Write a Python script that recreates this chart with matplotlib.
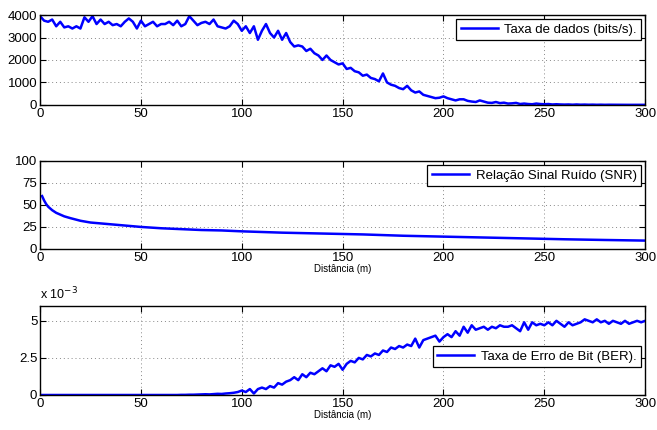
import numpy as np
import matplotlib
matplotlib.use("Agg")
import matplotlib.pyplot as plt

plt.rcParams['font.family'] = ['Liberation Sans', 'DejaVu Sans']

# ---- data ----
dist = list(range(0, 301, 2))
taxa_dados = [3950, 3750, 3700, 3800, 3500, 3700, 3450, 3500, 3400, 3500,
              3400, 3900, 3700, 3950, 3600, 3800, 3600, 3700, 3550, 3600,
              3500, 3700, 3850, 3700, 3400, 3750, 3500, 3600, 3700, 3500,
              3600, 3600, 3700, 3550, 3750, 3500, 3600, 3950, 3750, 3550,
              3650, 3700, 3600, 3800, 3500, 3450, 3400, 3500, 3750, 3600,
              3300, 3500, 3200, 3500, 2900, 3300, 3600, 3200, 3000, 3300,
              2900, 3200, 2800, 2600, 2650, 2600, 2400, 2500, 2300, 2200,
              2000, 2200, 2000, 1900, 1800, 1850, 1600, 1650, 1500, 1450,
              1300, 1350, 1200, 1150, 1050, 1400, 1000, 900, 850, 750,
              700, 850, 650, 550, 600, 450, 400, 350, 300, 320,
              380, 300, 250, 200, 250, 250, 180, 150, 130, 200,
              150, 100, 90, 130, 80, 100, 60, 70, 90, 40,
              60, 40, 30, 60, 40, 30, 40, 20, 30, 20,
              15, 20, 10, 20, 10, 15, 8, 12, 6, 10,
              5, 8, 5, 6, 4, 6, 3, 5, 4, 3, 4]

dist_snr = [1, 2, 3, 4, 5, 6, 8, 10, 12, 15, 20, 25, 30, 35, 40, 50, 60, 70,
            80, 90, 100, 120, 140, 160, 180, 200, 220, 240, 260, 280, 300]
snr = [60, 55, 51, 48, 46, 44, 41, 39, 37, 35, 32, 30, 29, 28, 27, 25, 23.5,
       22.5, 21.5, 21, 20, 18.5, 17.5, 16.5, 15, 14, 13, 12, 11, 10.2, 9.5]

ber_e3 = [0, 0, 0, 0, 0, 0, 0, 0, 0, 0,
          0, 0, 0, 0, 0, 0, 0, 0, 0, 0,
          0, 0, 0, 0, 0, 0, 0, 0, 0, 0,
          0, 0, 0, 0, 0, 0.01, 0.01, 0.02, 0.02, 0.03,
          0.04, 0.05, 0.04, 0.06, 0.08, 0.07, 0.1, 0.12, 0.15, 0.2,
          0.3, 0.2, 0.4, 0.1, 0.4, 0.5, 0.4, 0.6, 0.5, 0.8,
          0.7, 0.9, 1.0, 1.2, 1.0, 1.4, 1.2, 1.5, 1.4, 1.6,
          1.8, 1.6, 2.0, 1.9, 2.1, 1.7, 2.1, 2.3, 2.2, 2.5,
          2.4, 2.7, 2.6, 2.8, 2.7, 3.0, 2.9, 3.2, 3.1, 3.3,
          3.2, 3.4, 3.3, 3.8, 3.2, 3.7, 3.8, 3.9, 4.0, 3.6,
          3.9, 4.1, 3.9, 4.3, 4.0, 4.6, 4.2, 4.7, 4.4, 4.5,
          4.6, 4.4, 4.6, 4.5, 4.7, 4.6, 4.6, 4.7, 4.5, 4.3,
          4.9, 4.4, 4.9, 4.7, 4.8, 4.7, 4.9, 4.7, 5.0, 4.8,
          4.6, 4.9, 4.7, 4.8, 4.9, 5.1, 5.0, 4.9, 5.1, 4.9,
          5.0, 4.8, 5.0, 4.9, 4.8, 5.0, 4.8, 4.9, 5.0, 4.9, 5.0]

xticks = [0, 50, 100, 150, 200, 250, 300]
yticks_rate = [0, 1000, 2000, 3000, 4000]
yticks_snr = [0, 25, 50, 75, 100]
yticks_ber = [0, 2.5, 5]

label_rate = "Taxa de dados (bits/s)."
label_snr = "Relação Sinal Ruído (SNR)"
label_ber = "Taxa de Erro de Bit (BER)."
xlabel = "Distância (m)"

# ---- figure ----
fig = plt.figure(figsize=(6.57, 4.30), dpi=100)
L, W = 0.061, 0.921
ax1 = fig.add_axes([L, 0.756, W, 0.209])
ax2 = fig.add_axes([L, 0.421, W, 0.205])
ax3 = fig.add_axes([L, 0.0814, W, 0.207])

blue = '#0000ff'
lw = 1.8
leg_kw = dict(fontsize=9.5, fancybox=False, edgecolor='black', framealpha=1,
              handlelength=2.8, borderaxespad=0.3, borderpad=0.35,
              handletextpad=0.5)

def style(ax, yticks, ylim):
    ax.set_xlim(0, 300)
    ax.set_ylim(*ylim)
    ax.set_xticks(xticks)
    ax.set_yticks(yticks)
    ax.tick_params(direction='in', top=True, right=True, labelsize=9.5,
                   length=4, width=0.8, pad=2)
    ax.grid(True, linestyle=(0, (1, 3)), color='#888888', linewidth=0.7)
    for s in ax.spines.values():
        s.set_linewidth(1.0)

ax1.plot(dist, taxa_dados, color=blue, lw=lw, label=label_rate)
style(ax1, yticks_rate, (0, 4000))
ax1.legend(loc='upper right', **leg_kw).get_frame().set_linewidth(0.9)

ax2.plot(dist_snr, snr, color=blue, lw=lw, label=label_snr)
style(ax2, yticks_snr, (0, 100))
ax2.legend(loc='upper right', **leg_kw).get_frame().set_linewidth(0.9)
ax2.set_xlabel(xlabel, fontsize=7, labelpad=0)

ax3.plot(dist, ber_e3, color=blue, lw=lw, label=label_ber)
style(ax3, yticks_ber, (0, 6))
ax3.set_yticklabels(['0', '2.5', '5'])
ax3.legend(loc='center right', bbox_to_anchor=(1.0, 0.43),
           **leg_kw).get_frame().set_linewidth(0.9)
ax3.set_xlabel(xlabel, fontsize=7, labelpad=0)
ax3.text(0.0, 1.04, r'x 10$^{-3}$', transform=ax3.transAxes, fontsize=9,
         ha='left', va='bottom')

fig.savefig('out.png', dpi=100)
